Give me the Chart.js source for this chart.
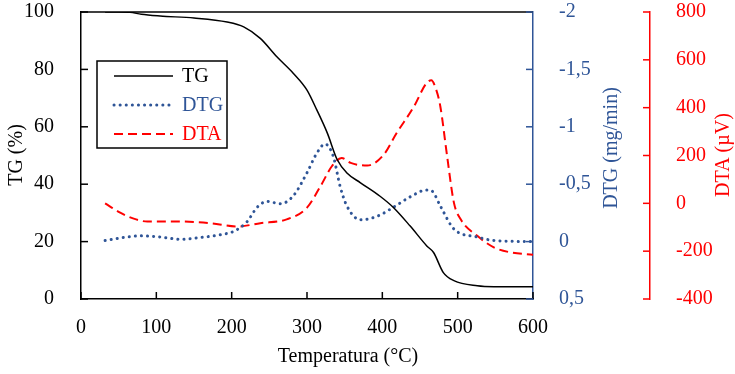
<!DOCTYPE html>
<html>
  <head>
    <title>TG / DTG / DTA</title>
    <script src="https://cdn.jsdelivr.net/npm/chart.js"></script>
    <style>
      body {
        margin: 0;
        background: #fff;
      }
      .wrap {
        width: 735px;
        height: 374px;
      }
    </style>
  </head>
  <body>
    <div class="wrap"><canvas id="tgChart"></canvas></div>

    <script>
      // values
      let tgTemp = [32, 50, 65, 80, 105, 150, 194, 216, 238, 260, 282, 300, 313, 327, 340, 353, 371, 397, 415, 437, 459, 468, 481, 495, 526, 548, 600];
      let tgValues = [100, 100, 99.9, 99.2, 98.6, 97.9, 96.5, 94.8, 90.8, 84.4, 78.6, 72.8, 65.9, 57.8, 48.6, 43.9, 40.5, 35.8, 31.8, 25.4, 18.5, 16.2, 9.2, 6.4, 4.6, 4.3, 4.3];

      let dtgTemp = [32, 61, 79, 105, 132, 158, 185, 203, 220, 234, 247, 265, 282, 300, 313, 324, 335, 344, 353, 371, 393, 415, 437, 459, 466, 477, 495, 526, 548, 600];
      let dtgValues = [-0.01, -0.04, -0.05, -0.04, -0.02, -0.035, -0.06, -0.09, -0.17, -0.3, -0.35, -0.33, -0.4, -0.6, -0.77, -0.85, -0.74, -0.48, -0.31, -0.19, -0.22, -0.3, -0.39, -0.45, -0.44, -0.31, -0.11, -0.04, -0.01, 0];

      let dtaTemp = [32, 52, 70, 88, 127, 172, 207, 238, 273, 300, 318, 333, 346, 358, 380, 402, 419, 442, 458, 465, 471, 477, 486, 495, 504, 526, 548, 570, 600];
      let dtaValues = [0, -39, -64, -76, -76, -83, -97, -83, -67, -18, 72, 155, 190, 169, 158, 204, 294, 405, 500, 515, 480, 405, 197, 3, -67, -136, -184, -205, -215];

      let tempTicks = [0, 100, 200, 300, 400, 500, 600];
      let tgTicks = [0, 20, 40, 60, 80, 100];
      let dtgTicks = [-2, -1.5, -1, -0.5, 0, 0.5];
      let dtaTicks = [-400, -200, 0, 200, 400, 600, 800];

      let blue = "#2F5597";
      let red = "#FF0000";
      let serif = "'Liberation Serif', 'Times New Roman', serif";

      let pts = (xs, ys) => xs.map((x, i) => ({ x: x, y: ys[i] }));

      // inward tick marks, frame, rotated titles and the boxed legend
      let decor = {
        id: "decor",
        afterDraw(chart) {
          let c = chart.ctx;
          let a = chart.chartArea;
          let s = chart.scales;
          c.save();
          c.lineWidth = 1.5;

          c.strokeStyle = "#000";
          c.beginPath();
          c.moveTo(a.left, a.top);
          c.lineTo(a.right, a.top);
          c.stroke();
          tempTicks.forEach((t) => {
            let px = s.x.getPixelForValue(t);
            c.beginPath();
            c.moveTo(px, a.bottom);
            c.lineTo(px, a.bottom - 7);
            c.stroke();
          });
          tgTicks.forEach((t) => {
            let py = s.y.getPixelForValue(t);
            c.beginPath();
            c.moveTo(a.left, py);
            c.lineTo(a.left + 7, py);
            c.stroke();
          });
          c.strokeStyle = blue;
          dtgTicks.forEach((t) => {
            let py = s.y1.getPixelForValue(t);
            c.beginPath();
            c.moveTo(a.right, py);
            c.lineTo(a.right - 7, py);
            c.stroke();
          });
          c.strokeStyle = red;
          dtaTicks.forEach((t) => {
            let py = s.y2.getPixelForValue(t);
            c.beginPath();
            c.moveTo(s.y2.left, py);
            c.lineTo(s.y2.left - 7, py);
            c.stroke();
          });

          c.font = "20px " + serif;
          c.textBaseline = "middle";
          c.textAlign = "center";
          let vtext = (txt, x, y, col) => {
            c.save();
            c.translate(x, y);
            c.rotate(-Math.PI / 2);
            c.fillStyle = col;
            c.fillText(txt, 0, 0);
            c.restore();
          };
          vtext("TG (%)", 17, 155, "#000");
          vtext("DTG (mg/min)", 612, 148, blue);
          vtext("DTA (µV)", 724, 155, red);
          c.fillStyle = "#000";
          c.fillText("Temperatura (°C)", 348, 357);

          // legend
          c.strokeStyle = "#000";
          c.lineWidth = 1.5;
          c.strokeRect(97, 61, 130, 87);
          let rows = [76, 105, 134];
          chart.data.datasets.forEach((d, i) => {
            let y = rows[i];
            c.save();
            c.strokeStyle = d.borderColor;
            c.lineWidth = d.borderWidth;
            c.lineCap = d.borderCapStyle || "butt";
            c.setLineDash(d.borderDash || []);
            c.beginPath();
            c.moveTo(114, y);
            c.lineTo(173, y);
            c.stroke();
            c.restore();
            c.fillStyle = d.borderColor;
            c.textAlign = "left";
            c.fillText(d.label, 182, y + 1);
          });
          c.restore();
        },
      };

      let tickFont = { family: serif, size: 20 };
      let noPad = (sc, w) => {
        sc.width = w;
        sc.paddingTop = 0;
        sc.paddingBottom = 0;
      };

      new Chart(document.getElementById("tgChart"), {
        type: "line",
        data: {
          datasets: [
            {
              label: "TG",
              data: pts(tgTemp, tgValues),
              yAxisID: "y",
              borderColor: "#000",
              borderWidth: 1.5,
              pointRadius: 0,
              cubicInterpolationMode: "monotone",
            },
            {
              label: "DTG",
              data: pts(dtgTemp, dtgValues),
              yAxisID: "y1",
              borderColor: blue,
              borderWidth: 3,
              borderDash: [0.1, 6],
              borderCapStyle: "round",
              pointRadius: 0,
              cubicInterpolationMode: "monotone",
            },
            {
              label: "DTA",
              data: pts(dtaTemp, dtaValues),
              yAxisID: "y2",
              borderColor: red,
              borderWidth: 2,
              borderDash: [9, 5],
              pointRadius: 0,
              cubicInterpolationMode: "monotone",
            },
          ],
        },
        options: {
          responsive: true,
          maintainAspectRatio: false,
          animation: false,
          layout: { padding: { top: 12, left: 0, right: 0, bottom: 0 } },
          plugins: { legend: { display: false }, tooltip: { enabled: false } },
          scales: {
            x: {
              type: "linear",
              min: 0,
              max: 600,
              afterBuildTicks: (sc) => (sc.ticks = tempTicks.map((v) => ({ value: v }))),
              grid: { display: false },
              border: { color: "#000", width: 1.5 },
              ticks: { color: "#000", font: tickFont, padding: 9, maxRotation: 0 },
              afterFit: (sc) => {
                sc.height = 75;
                sc.paddingLeft = 0;
                sc.paddingRight = 0;
              },
            },
            y: {
              position: "left",
              min: 0,
              max: 100,
              afterBuildTicks: (sc) => (sc.ticks = tgTicks.map((v) => ({ value: v }))),
              grid: { display: false },
              border: { color: "#000", width: 1.5 },
              ticks: { color: "#000", font: tickFont, padding: 19 },
              afterFit: (sc) => noPad(sc, 81),
            },
            y1: {
              position: "right",
              min: -2,
              max: 0.5,
              reverse: true,
              afterBuildTicks: (sc) => (sc.ticks = dtgTicks.map((v) => ({ value: v }))),
              grid: { display: false },
              border: { color: blue, width: 1.5 },
              ticks: {
                color: blue,
                font: tickFont,
                padding: 18,
                callback: (v) => String(v).replace(".", ","),
              },
              afterFit: (sc) => noPad(sc, 117),
            },
            y2: {
              position: "right",
              min: -400,
              max: 800,
              afterBuildTicks: (sc) => (sc.ticks = dtaTicks.map((v) => ({ value: v }))),
              grid: { display: false },
              border: { color: red, width: 1.5 },
              ticks: { color: red, font: tickFont, padding: 18 },
              afterFit: (sc) => noPad(sc, 85),
            },
          },
        },
        plugins: [decor],
      });
    </script>
  </body>
</html>
